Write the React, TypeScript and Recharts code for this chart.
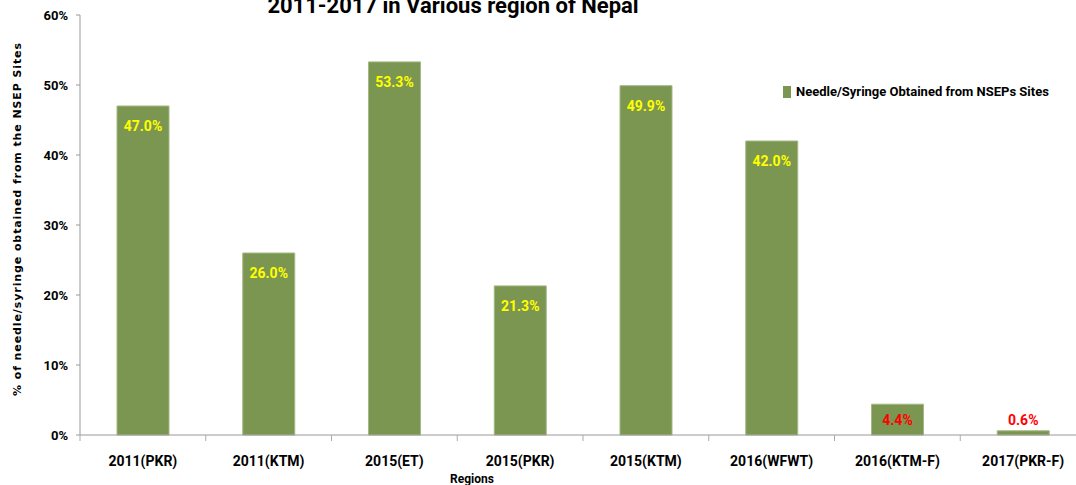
import React from 'react';
import { BarChart, Bar, XAxis, YAxis, LabelList } from 'recharts';

const regions = ['2011(PKR)', '2011(KTM)', '2015(ET)', '2015(PKR)', '2015(KTM)', '2016(WFWT)', '2016(KTM-F)', '2017(PKR-F)'];
const obtained = [47.0, 26.0, 53.3, 21.3, 49.9, 42.0, 4.4, 0.6];
const yTicks = [0, 10, 20, 30, 40, 50, 60];

const seriesName = 'Needle/Syringe Obtained from NSEPs Sites';
const title = '2011-2017 in Various region of Nepal';

const data = regions.map((name, i) => ({ name, value: obtained[i] }));

const FONT = 'Roboto, "Noto Sans", sans-serif';
const BAR = '#7a9651';
const TICK_GAP = 21;
const CHART_W = 1090;
const MARGIN = { top: 15, right: 4, left: 0, bottom: 0 };
const Y_AXIS_W = 80;
const PLOT_W = CHART_W - MARGIN.left - MARGIN.right - Y_AXIS_W;

const BarLabel = (props: any) => {
    const { x, y, width, height, value } = props;
    const base = y + height;
    const ty = Math.min(y + 20, base - 15);
    const color = value < 10 ? '#ff0000' : '#ffff00';
    return (
        <text x={x + width / 2} y={ty} dy="0.35em" textAnchor="middle" fill={color}
            fontFamily={FONT} fontWeight="bold" fontSize={14}>
            {value.toFixed(1)}%
        </text>
    );
};

// category label plus the small tick marks on the band edges (Excel style)
const RegionTick = (props: any) => {
    const { x, y, index, payload } = props;
    const step = PLOT_W / regions.length;
    const axisY = y - TICK_GAP;
    return (
        <g>
            <line x1={x - step / 2} x2={x - step / 2} y1={axisY} y2={axisY + 6} stroke="#aaa" />
            {index === regions.length - 1 &&
                <line x1={x + step / 2} x2={x + step / 2} y1={axisY} y2={axisY + 6} stroke="#aaa" />}
            <text x={x} y={y} dy="0.71em" textAnchor="middle" fill="#000"
                fontFamily={FONT} fontWeight="bold" fontSize={14}>
                {payload.value}
            </text>
        </g>
    );
};

export default function App() {
    return (
        <div style={{ position: 'absolute', left: 0, top: 0, width: 1076, height: 485, overflow: 'hidden', background: '#fff' }}>
            <BarChart width={CHART_W} height={485} data={data} margin={MARGIN} barSize={52}>
                <text x={453} y={13} textAnchor="middle" fontFamily={FONT} fontWeight="bold" fontSize={22} fill="#000">
                    {title}
                </text>
                <text x={472} y={483} textAnchor="middle" fontFamily={FONT} fontWeight="bold" fontSize={12} fill="#000">
                    Regions
                </text>
                <text transform="translate(21, 219) rotate(-90)" textAnchor="middle" fontFamily='"DejaVu Sans", sans-serif'
                    fontWeight="bold" fontSize={11} letterSpacing={0.9} fill="#000">
                    % of needle/syringe obtained from the NSEP Sites
                </text>
                <XAxis dataKey="name" interval={0} height={50} tickLine={false} axisLine={{ stroke: '#999' }}
                    tickSize={0} tickMargin={TICK_GAP} tick={<RegionTick />} />
                <YAxis width={Y_AXIS_W} domain={[0, 60]} ticks={yTicks} tickFormatter={(v: number) => `${v}%`}
                    axisLine={{ stroke: '#999' }} tickLine={{ stroke: '#999' }} tickSize={4} tickMargin={8}
                    tick={{ fill: '#000', fontFamily: FONT, fontWeight: 'bold', fontSize: 13 }} />
                <Bar dataKey="value" name={seriesName} fill={BAR} stroke="#a3b884" strokeWidth={1} isAnimationActive={false}>
                    <LabelList dataKey="value" content={<BarLabel />} />
                </Bar>
            </BarChart>
            <div style={{ position: 'absolute', left: 783, top: 84, display: 'flex', alignItems: 'center', whiteSpace: 'nowrap',
                fontFamily: FONT, fontWeight: 'bold', fontSize: 13, color: '#000' }}>
                <span style={{ display: 'inline-block', width: 8, height: 12, background: BAR, marginRight: 5 }} />
                <span>{seriesName}</span>
            </div>
        </div>
    );
}
